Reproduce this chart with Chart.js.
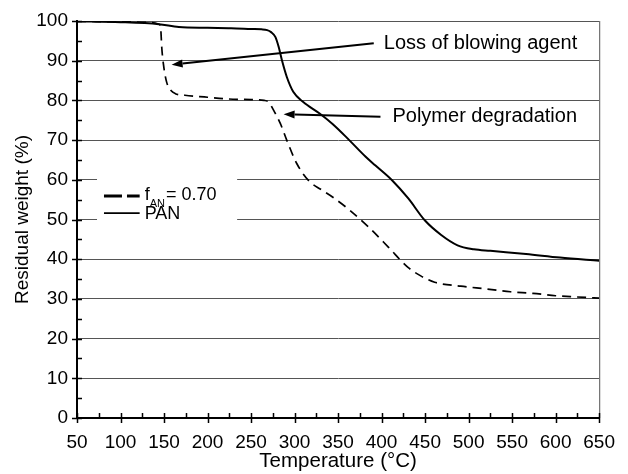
<!DOCTYPE html>
<html>
<head>
<meta charset="utf-8">
<script src="https://cdn.jsdelivr.net/npm/chart.js@4.4.1/dist/chart.umd.min.js"></script>
<style>
html,body{margin:0;padding:0;background:#fff;}
#wrap{width:628px;height:474px;position:relative;}
</style>
</head>
<body>
<div id="wrap"><canvas id="c" width="628" height="474"></canvas></div>
<script>
// ---- Data ----
const tempAN =   [50, 100, 140, 144, 146, 147.5, 149.5, 153, 158, 163, 174, 200, 220, 250, 265, 270, 276, 283.6, 291, 302.5, 317, 330, 344, 362, 385, 408, 430, 445, 461, 491, 521, 548, 574, 600, 623, 650];
const weightAN = [99.9, 99.8, 99.5, 99.2, 98.5, 93, 88.8, 84.6, 82.5, 81.7, 81.3, 80.8, 80.4, 80.2, 80.0, 79.6, 77.5, 74.2, 70.0, 64.1, 59.6, 57.6, 55.6, 52.6, 48.1, 43, 38, 35.8, 34.2, 33.2, 32.5, 31.8, 31.4, 30.8, 30.5, 30.2];
const tempPAN =   [50, 100, 144, 167, 200, 227, 250, 262, 268.5, 273, 277.9, 281.7, 285.5, 291.1, 298.7, 310, 328.8, 344, 362.8, 381.7, 393, 412, 430.7, 449.6, 468.5, 487.3, 506, 525, 566, 605, 650];
const weightPAN = [99.9, 99.7, 99.2, 98.5, 98.3, 98.2, 98.0, 97.9, 97.7, 97.2, 96.0, 93.5, 90.1, 85.9, 82.1, 79.6, 76.7, 74.0, 70.0, 65.8, 63.6, 59.9, 55.3, 49.8, 46.1, 43.5, 42.5, 42.1, 41.3, 40.4, 39.6];
const xTicks = [50, 100, 150, 200, 250, 300, 350, 400, 450, 500, 550, 600, 650];
const yTicks = [0, 10, 20, 30, 40, 50, 60, 70, 80, 90, 100];
const seriesNames = ["f", "PAN"];
const annotTexts = ["Loss of blowing agent", "Polymer degradation"];
// arrow [fromX, fromY, toX, toY] in data units
const arrowLoss = [391, 94.4, 158.7, 89.0];
const arrowPoly = [398.7, 75.9, 287.4, 76.5];

const FONT = "'Liberation Sans', Arial, sans-serif";

function pts(xs, ys){ return xs.map((x,i)=>({x:x, y:ys[i]})); }

const extras = {
  id: 'extras',
  beforeDatasetsDraw(chart){
    const ctx = chart.ctx, xs = chart.scales.x, ys = chart.scales.y;
    ctx.save();
    ctx.fillStyle = '#fff';
    ctx.fillRect(xs.getPixelForValue(73), ys.getPixelForValue(61.5), xs.getPixelForValue(234)-xs.getPixelForValue(73), ys.getPixelForValue(48.5)-ys.getPixelForValue(61.5));
    ctx.restore();
  },
  afterDraw(chart){
    const ctx = chart.ctx, xs = chart.scales.x, ys = chart.scales.y;
    const a = chart.chartArea;
    ctx.save();
    // right border
    ctx.strokeStyle = '#707070'; ctx.lineWidth = 1.2;
    ctx.beginPath(); ctx.moveTo(a.right+0.5, a.top); ctx.lineTo(a.right+0.5, a.bottom); ctx.stroke();
    // ticks
    ctx.strokeStyle = '#000'; ctx.lineWidth = 1.5;
    ctx.beginPath();
    for (let v = 50; v <= 650; v += 25) {
      const px = Math.round(xs.getPixelForValue(v)) + 0.5;
      const major = (v % 50 === 0);
      ctx.moveTo(px, a.bottom - 5);
      ctx.lineTo(px, a.bottom + (major ? 5 : 0));
    }
    for (let v = 0; v <= 100; v += 5) {
      const py = Math.round(ys.getPixelForValue(v)) + 0.5;
      const major = (v % 10 === 0);
      ctx.moveTo(a.left - (major ? 5 : 0), py);
      ctx.lineTo(a.left + 5, py);
    }
    ctx.stroke();

    // legend
    const lx0 = xs.getPixelForValue(81), lx1 = xs.getPixelForValue(122);
    const ly1 = ys.getPixelForValue(55.9), ly2 = ys.getPixelForValue(51.6);
    ctx.strokeStyle = '#000';
    ctx.lineWidth = 3; ctx.setLineDash([18,5]);
    ctx.beginPath(); ctx.moveTo(lx0, ly1); ctx.lineTo(lx1, ly1); ctx.stroke();
    ctx.setLineDash([]); ctx.lineWidth = 1.6;
    ctx.beginPath(); ctx.moveTo(lx0, ly2); ctx.lineTo(lx1, ly2); ctx.stroke();
    ctx.fillStyle = '#000';
    ctx.textBaseline = 'middle'; ctx.textAlign = 'left';
    ctx.font = '18px ' + FONT;
    const tx = lx1 + 5;
    ctx.fillText(seriesNames[0], tx, ly1 - 1.5);
    const fw = ctx.measureText(seriesNames[0]).width;
    ctx.font = '11px ' + FONT;
    ctx.fillText('AN', tx + fw, ly1 + 7.5);
    const sw = ctx.measureText('AN').width;
    ctx.font = '18px ' + FONT;
    ctx.fillText('= 0.70', tx + fw + sw + 1, ly1 - 1.5);
    ctx.fillText(seriesNames[1], tx, ly2 + 0.5);

    // annotations
    function arrow(arr){
      const x0 = xs.getPixelForValue(arr[0]), y0 = ys.getPixelForValue(arr[1]);
      const x1 = xs.getPixelForValue(arr[2]), y1 = ys.getPixelForValue(arr[3]);
      const ang = Math.atan2(y1-y0, x1-x0);
      const L = 11, W = 4;
      const bx = x1 - L*Math.cos(ang), by = y1 - L*Math.sin(ang);
      ctx.lineWidth = 2;
      ctx.beginPath(); ctx.moveTo(x0, y0); ctx.lineTo(bx, by); ctx.stroke();
      ctx.beginPath();
      ctx.moveTo(x1, y1);
      ctx.lineTo(bx + W*Math.sin(ang), by - W*Math.cos(ang));
      ctx.lineTo(bx - W*Math.sin(ang), by + W*Math.cos(ang));
      ctx.closePath(); ctx.fill();
      return [x0, y0];
    }
    const p1 = arrow(arrowLoss);
    const p2 = arrow(arrowPoly);
    ctx.font = '20px ' + FONT;
    ctx.textBaseline = 'middle';
    ctx.fillText(annotTexts[0], p1[0] + 10, p1[1]);
    ctx.fillText(annotTexts[1], p2[0] + 12, p2[1]);
    ctx.restore();
  }
};

new Chart(document.getElementById('c'), {
  type: 'line',
  data: {
    datasets: [
      { label: 'f_AN = 0.70', data: pts(tempAN, weightAN), borderColor: '#000', borderWidth: 1.7, borderDash: [9,6], pointRadius: 0, fill: false, cubicInterpolationMode: 'monotone' },
      { label: 'PAN', data: pts(tempPAN, weightPAN), borderColor: '#000', borderWidth: 2, pointRadius: 0, fill: false, cubicInterpolationMode: 'monotone' }
    ]
  },
  options: {
    responsive: false,
    animation: false,
    events: [],
    layout: { padding: { left: 0, right: 21, top: 21, bottom: 0 } },
    plugins: { legend: { display: false }, tooltip: { enabled: false } },
    scales: {
      x: {
        type: 'linear', min: 50, max: 650,
        afterBuildTicks(s){ s.ticks = xTicks.map(v=>({value:v})); },
        afterFit(s){ s.height = 56; },
        grid: { display: false, drawTicks: false },
        border: { display: true, color: '#000', width: 2 },
        ticks: { color: '#000', font: { family: FONT, size: 19 }, padding: 13, maxRotation: 0, autoSkip: false },
        title: { display: true, text: 'Temperature (°C)', color: '#000', font: { family: FONT, size: 20.5 }, padding: { top: 0, bottom: 0 } }
      },
      y: {
        type: 'linear', min: 0, max: 100,
        afterBuildTicks(s){ s.ticks = yTicks.map(v=>({value:v})); },
        afterFit(s){ s.width = 77; },
        grid: { display: true, drawTicks: false, color: '#555', lineWidth: 1 },
        border: { display: true, color: '#000', width: 2 },
        ticks: { color: '#000', font: { family: FONT, size: 19 }, padding: 9, autoSkip: false },
        title: { display: true, text: 'Residual weight (%)', color: '#000', font: { family: FONT, size: 19 }, padding: { top: 11, bottom: 0 } }
      }
    }
  },
  plugins: [extras]
});
</script>
</body>
</html>
